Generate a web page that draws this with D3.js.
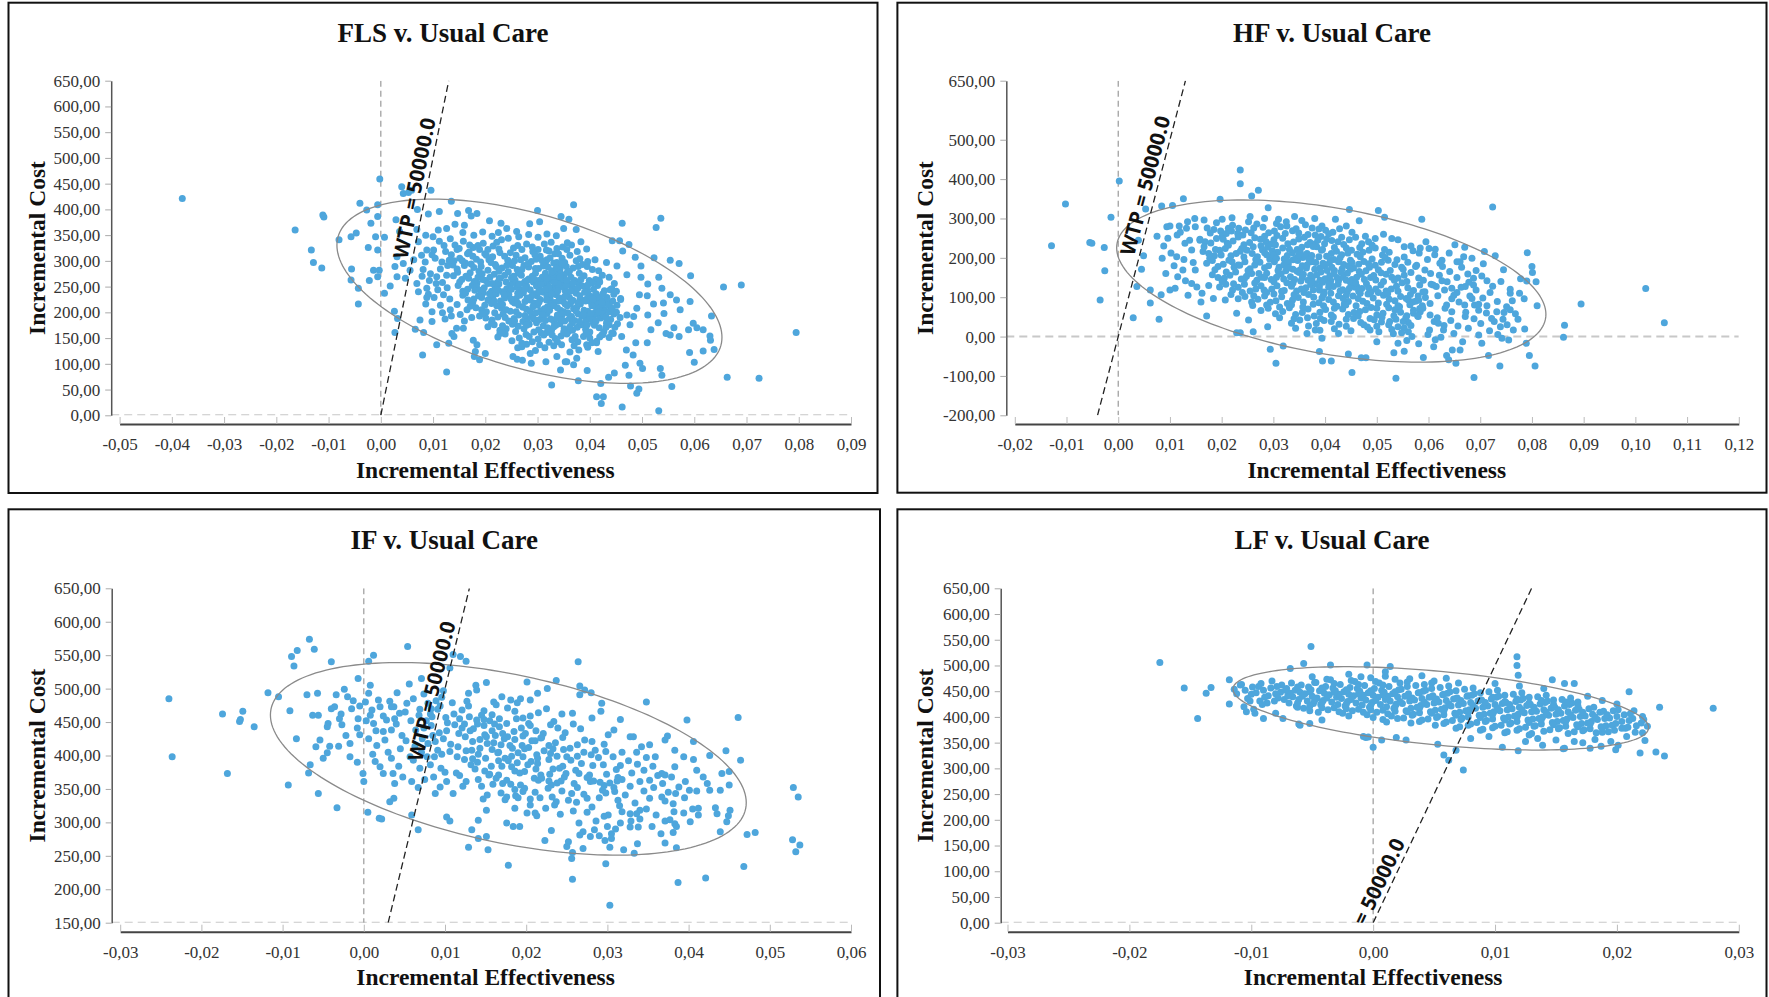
<!DOCTYPE html>
<html>
<head>
<meta charset="utf-8">
<script src="https://cdn.jsdelivr.net/npm/d3@7"></script>
<style>
  body { margin: 0; background: #fff; }
  svg { display: block; }
</style>
</head>
<body>
<svg id="chart" width="1769" height="997"></svg>
<script>
// ---------- data: [incremental effectiveness, incremental cost] ----------
const flsPoints = [
[-.0380,421],[-.0164,360],[-.0111,389],[-.0109,385],[-.0133,321],[-.0129,297],[-.0113,286],[-.0080,341],[-.0057,347],[-.0047,354],[-.0040,412],[-.0027,399],[-.0006,409],[-.0002,459],[-.0019,373],[-.0006,386],[-.0010,347],[.0007,346],[-.0024,326],[-.0006,321],[-.0056,284],[-.0057,263],[-.0043,247],[-.0043,216],[-.0022,262],[-.0014,282],[-.0006,269],[-.0003,282],[.0007,237],[.0018,251],[.0026,202],[.0032,188],[.0027,161],[.0040,444],[.0043,431],[.0053,433],[.0059,437],[.0096,437],[.0070,400],[.0029,380],[.0036,357],[.0069,361],[.0135,416],[.0091,391],[.0112,396],[.0147,392],[.0168,398],[.0184,392],[.0173,387],[.0142,371],[.0160,369],[.0208,378],[.0230,373],[.0285,372],[.0304,376],[.0300,398],[.0345,386],[.0350,363],[.0260,357],[.0241,363],[.0110,360],[.0126,363],[.0086,350],[.0100,347],[.0133,343],[.0088,321],[.0101,321],[.0072,337],[.0078,311],[.0063,302],[.0043,295],[.0031,308],[.0027,289],[.0031,269],[.0047,266],[.0056,282],[.0069,256],[.0072,240],[.0088,247],[.0107,269],[.0120,234],[.0086,216],[.0098,201],[.0098,182],[.0123,187],[.0135,193],[.0145,169],[.0140,153],[.0082,161],[.0066,167],[.0075,185],[.0107,137],[.0130,140],[.0080,117],[.0126,84],[.0136,159],[.0158,169],[.0177,146],[.0184,137],[.0181,124],[.0189,108],[.0200,120],[.0179,114],[.0228,159],[.0253,114],[.0261,109],[.0271,107],[.0288,101],[.0316,104],[.0327,59],[.0344,88],[.0337,114],[.0353,104],[.0286,120],[.0270,133],
[.0369,409],[.0360,381],[.0374,361],[.0462,373],[.0536,383],[.0527,365],[.0443,339],[.0457,339],[.0475,332],[.0463,319],[.0383,337],[.0394,323],[.0487,307],[.0523,306],[.0554,301],[.0571,295],[.0593,271],[.0656,249],[.0690,253],[.0498,290],[.0498,268],[.0511,255],[.0532,268],[.0538,247],[.0554,234],[.0566,224],[.0592,221],[.0495,234],[.0510,232],[.0522,216],[.0541,218],[.0542,198],[.0511,195],[.0531,180],[.0517,166],[.0490,208],[.0471,195],[.0477,176],[.0459,227],[.0471,273],[.0452,290],[.0432,297],[.0410,302],[.0418,263],[.0439,244],[.0554,156],[.0571,153],[.0561,170],[.0589,166],[.0605,170],[.0617,166],[.0630,154],[.0633,193],[.0631,146],[.0638,128],[.0617,125],[.0591,122],[.0600,103],[.0795,161],[.0663,74],[.0724,72],[.0557,56],[.0532,9],[.0462,16],[.0422,23],[.0413,36],[.0426,36],[.0494,51],[.0490,43],[.0478,57],[.0421,62],[.0436,74],[.0447,82],[.0475,78],[.0378,67],[.0395,87],[.0496,101],[.0501,91],[.0535,91],[.0538,78],[.0468,97],[.0483,117],[.0470,127],[.0510,141],[.0488,141],[.0416,124],[.0413,141],[.0394,137],[.0375,111],[.0369,98],[.0356,104],[.0423,156],[.0445,159],[.0461,153],[.0407,179],[.0432,179],[.0391,192],[.0435,218],[.0413,227],[.0381,224],[.0484,192],[.0573,205],[.0598,179],[.0546,159],
[.0142,331],[.0158,338],[.0177,326],[.0196,334],[.0215,329],[.0231,341],[.0254,325],[.0279,333],[.0301,322],[.0326,336],[.0348,327],[.0365,331],[.0189,322],[.0244,344],
[.0135,312],[.0151,305],[.0169,317],[.0183,303],[.0199,314],[.0214,308],[.0228,316],[.0243,301],[.0259,311],[.0276,306],[.0291,318],[.0305,309],[.0318,302],[.0333,314],[.0347,305],[.0362,311],[.0381,304],[.0322,319],
[.0128,291],[.0146,284],[.0162,296],[.0178,287],[.0191,298],[.0205,282],[.0219,293],[.0232,286],[.0246,297],[.0261,283],[.0274,291],[.0288,299],[.0302,285],[.0315,294],[.0327,281],[.0339,290],[.0352,297],[.0368,286],[.0386,293],[.0405,283],[.0331,296],[.0343,284],
[.0139,271],[.0155,264],[.0171,277],[.0186,268],[.0201,262],[.0217,274],[.0229,266],[.0244,279],[.0257,263],[.0269,272],[.0283,265],[.0296,276],[.0309,268],[.0321,261],[.0334,273],[.0345,266],[.0357,278],[.0371,262],[.0389,271],[.0411,264],[.0437,268],[.0326,270],[.0339,262],[.0351,272],
[.0148,252],[.0166,245],[.0184,257],[.0198,248],[.0212,241],[.0226,255],[.0241,246],[.0253,258],[.0267,243],[.0279,251],[.0292,259],[.0304,244],[.0316,253],[.0329,247],[.0341,256],[.0353,242],[.0366,250],[.0379,258],[.0394,245],[.0415,252],[.0442,246],[.0335,251],[.0347,259],[.0322,241],
[.0157,233],[.0178,226],[.0196,238],[.0214,229],[.0229,222],[.0245,235],[.0259,227],[.0273,238],[.0286,224],[.0299,232],[.0311,239],[.0324,226],[.0336,234],[.0349,221],[.0361,229],[.0374,237],[.0388,223],[.0403,231],[.0421,226],[.0446,235],[.0408,221],[.0396,238],
[.0171,212],[.0193,205],[.0212,217],[.0231,208],[.0248,202],[.0264,214],[.0279,206],[.0293,218],[.0306,203],[.0319,211],[.0332,219],[.0344,204],[.0357,213],[.0369,207],[.0382,216],[.0396,202],[.0411,211],[.0428,205],[.0452,214],[.0418,218],[.0437,201],[.0403,219],
[.0189,193],[.0213,185],[.0234,197],[.0255,188],[.0272,182],[.0289,194],[.0304,186],[.0318,198],[.0331,183],[.0345,191],[.0358,199],[.0371,184],[.0385,193],[.0399,187],[.0414,196],[.0433,182],[.0458,190],[.0421,189],[.0446,197],[.0408,181],
[.0205,172],[.0228,165],[.0252,177],[.0274,168],[.0293,162],[.0311,174],[.0327,166],[.0343,178],[.0359,163],[.0376,171],[.0392,167],[.0409,175],[.0427,163],[.0448,171],[.0366,179],[.0318,161],
[.0224,152],[.0251,145],[.0278,157],[.0301,148],[.0322,142],[.0345,154],[.0366,147],[.0388,153],[.0413,144],[.0437,151],
[.0262,131],[.0296,126],[.0331,135],[.0362,123],[.0396,132],
[.0150,324],[.0170,331],[.0205,322],[.0222,336],[.0262,330],[.0290,327],[.0313,333],[.0337,324],[.0357,335],
[.0140,300],[.0160,291],[.0176,309],[.0192,289],[.0207,302],[.0221,289],[.0237,309],[.0252,291],[.0268,302],[.0283,288],[.0297,303],[.0311,290],[.0324,306],[.0337,297],[.0355,289],[.0374,300],[.0395,289],
[.0147,278],[.0163,270],[.0179,260],[.0194,275],[.0209,268],[.0223,258],[.0237,272],[.0250,267],[.0263,276],[.0276,260],[.0290,270],[.0302,262],[.0315,276],[.0328,266],[.0340,277],[.0351,259],[.0364,268],[.0380,276],[.0399,262],[.0424,272],
[.0157,241],[.0175,252],[.0191,243],[.0205,256],[.0219,249],[.0233,240],[.0247,253],[.0260,249],[.0273,256],[.0286,244],[.0298,251],[.0310,257],[.0322,249],[.0334,243],[.0346,250],[.0359,256],[.0372,244],[.0386,251],[.0404,257],[.0428,242],
[.0167,224],[.0187,232],[.0205,224],[.0221,236],[.0237,228],[.0252,221],[.0266,233],[.0280,228],[.0293,236],[.0305,225],[.0318,231],[.0330,238],[.0342,228],[.0355,235],[.0368,223],[.0381,232],[.0395,227],[.0412,236],[.0433,229],
[.0182,209],[.0202,201],[.0222,213],[.0240,205],[.0256,218],[.0272,210],[.0286,202],[.0300,214],[.0313,207],[.0325,216],[.0338,209],[.0350,201],[.0363,217],[.0375,210],[.0389,204],[.0404,213],[.0419,206],[.0440,210],
[.0201,189],[.0224,191],[.0245,183],[.0264,195],[.0281,187],[.0297,199],[.0311,191],[.0325,187],[.0338,195],[.0352,183],[.0365,192],[.0378,197],[.0392,182],[.0406,191],[.0426,194],[.0440,186],
[.0217,176],[.0240,168],[.0263,173],[.0284,177],[.0302,166],[.0319,170],[.0335,175],[.0351,168],[.0367,165],[.0384,176],[.0400,162],[.0418,170],[.0437,176],
[.0238,158],[.0265,150],[.0290,143],[.0312,156],[.0334,149],[.0356,158],[.0377,143],[.0400,150],[.0425,157],
[.0279,138],[.0314,131],[.0346,137],[.0379,127],
[.0328,279],[.0336,286],[.0344,276],[.0331,262],[.0339,255],[.0349,265],[.0355,252],[.0418,208],[.0425,215],[.0431,222],[.0416,230],[.0436,214],[.0443,207],[.0410,199],[.0424,198],
[.0146,322],[.0166,314],[.0186,330],[.0202,311],[.0226,323],[.0248,316],[.0270,322],[.0295,312],[.0317,321],[.0340,314],[.0356,322],[.0376,318],
[.0138,292],[.0156,300],[.0173,294],[.0188,280],[.0211,297],[.0226,280],[.0241,291],[.0256,300],[.0270,283],[.0282,295],[.0296,285],[.0309,300],[.0320,288],[.0347,294],[.0361,280],[.0378,289],[.0396,299],[.0417,281],
[.0151,259],[.0168,266],[.0183,250],[.0195,264],[.0213,256],[.0227,266],[.0240,259],[.0254,270],[.0265,255],[.0280,262],[.0293,265],[.0306,254],[.0318,266],[.0332,258],[.0343,269],[.0356,262],[.0368,257],[.0383,264],[.0396,253],[.0419,259],[.0447,256],
[.0162,237],[.0180,243],[.0193,229],[.0208,236],[.0224,244],[.0236,234],[.0250,245],[.0262,237],[.0276,246],[.0289,232],[.0302,240],[.0315,245],[.0327,235],[.0339,242],[.0352,231],[.0363,241],[.0377,247],[.0390,239],[.0407,245],[.0425,236],[.0451,241],
[.0176,219],[.0199,214],[.0217,222],[.0233,215],[.0249,226],[.0262,218],[.0276,221],[.0291,211],[.0303,220],[.0317,224],[.0329,213],[.0340,222],[.0353,216],[.0365,224],[.0378,218],[.0392,222],[.0406,226],[.0423,220],[.0444,222],[.0459,225],
[.0195,198],[.0218,199],[.0238,190],[.0259,201],[.0276,194],[.0293,187],[.0309,196],[.0323,204],[.0336,188],[.0348,197],[.0361,188],[.0374,202],[.0388,196],[.0402,198],[.0417,201],[.0431,191],[.0451,200],
[.0212,180],[.0233,174],[.0256,183],[.0279,175],[.0298,180],[.0315,184],[.0331,172],[.0347,185],[.0362,172],[.0380,182],[.0395,176],[.0412,183],[.0431,171],[.0453,178],
[.0232,161],[.0258,163],[.0284,153],[.0307,160],[.0328,156],[.0350,162],[.0372,153],[.0393,160],[.0419,152],[.0442,160],
[.0270,140],[.0304,137],[.0338,143],[.0370,135],[.0404,141],
[.0085,298],[.0095,275],[.0104,305],[.0114,284],[.0118,258],[.0124,318],[.0093,262],[.0109,244],[.0117,298],[.0126,272],[.0102,229],[.0114,214],[.0127,248],[.0081,283],[.0091,235],[.0106,256],[.0121,330],[.0131,301],[.0112,338],[.0098,312],[.0079,270],[.0088,229],[.0132,226],[.0118,199],[.0133,205],[.0146,215],[.0152,196],[.0160,183],[.0165,205],[.0174,190],[.0157,355],[.0178,350],[.0195,356],[.0213,348],[.0225,355],[.0264,347],[.0283,351],[.0301,346],[.0318,352],[.0336,349]
];

const hfPoints = [
[-.0129,231],[-.0102,337],
[.0236,423],[.0236,388],[.0271,372],[.0258,357],[.0197,349],[.0126,350],[.0105,333],[.0084,332],[.0053,324],[.0002,395],[-.0014,303],[-.0051,237],[-.0055,239],[-.0027,226],[-.0026,167],[-.0035,93],[.0029,48],[.0079,44],[.0062,85],[.0036,127],[.0045,171],[.0049,205],[.0039,245],[.0062,118],[.0083,106],[.0100,118],[.0110,123],[.0085,199],[.0096,250],[.0100,281],[.0118,281],[.0134,292],[.0113,203],[.0125,169],[.0129,237],[.0290,327],[.0341,305],[.0394,281],[.0325,292],[.0447,323],[.0466,294],[.0171,52],[.0229,10],[.0236,10],[.0294,-32],[.0305,-68],[.0319,-24],[.0389,-38],[.0395,-62],[.0412,-62],[.0445,-44],[.0452,-91],[.0470,-54],[.0479,-54],[.0394,-4],[.0426,8],[.0261,12],[.0289,25],[.0343,21],[.0365,8],[.0381,17],[.0487,17],[.0504,12],[.0184,97],[.0207,93],[.0229,59],[.0252,42],[.0142,135],[.0162,110],[.0149,169],[.0094,279],[.0132,275],[.0149,279],[.0190,289],[.0252,292],[.0213,275],[.0158,245],[.0142,220],
[.0503,320],[.0515,303],[.0587,298],[.0724,329],[.0513,260],[.0529,249],[.0541,246],[.0595,241],[.0553,228],[.0570,218],[.0601,224],[.0613,222],[.0651,233],[.0670,227],[.0708,216],[.0729,205],[.0791,213],[.0800,178],[.0801,163],[.0808,139],[.0790,141],[.0778,147],[.0745,170],[.0758,120],[.0758,110],[.0776,110],[.0810,78],[.0895,83],[.1020,122],[.1056,35],[.0863,29],[.0861,-2],[.0773,44],[.0786,19],[.0789,-17],[.0795,-48],[.0806,-75],[.0738,-75],[.0688,-104],[.0537,-106],[.0716,-48],[.0653,-68],[.0639,-59],[.0635,-48],[.0646,-34],[.0661,-34],[.0666,-13],[.0703,-17],[.0755,-9],[.0742,-4],[.0764,17],[.0739,25],[.0722,46],[.0732,63],[.0746,61],[.0713,78],[.0697,67],[.0677,21],[.0697,4],[.0649,8],[.0629,17],[.0610,-26],[.0590,-53],[.0553,-37],[.0533,-41],[.0541,-17],[.0558,-10],[.0500,-13],[.0532,7],[.0561,12],[.0602,17],[.0671,51],[.0689,80],[.0684,97],[.0670,80],[.0645,63],[.0632,72],[.0611,38],[.0619,34],[.0580,51],[.0584,63],[.0571,59],[.0671,127],[.0687,131],[.0655,112],[.0676,159],[.0687,148],[.0703,154],[.0713,142],[.0668,203],[.0684,199],[.0661,190],[.0645,123],[.0626,142],[.0615,127],[.0593,114],[.0603,84],[.0635,80],[.0626,194],[.0622,186],[.0593,169],[.0609,131],[.0580,103],[.0561,93],[.0544,76],[.0561,36],[.0541,25],[.0525,38],
[.0172,276],[.0198,268],[.0221,283],[.0246,271],[.0268,286],[.0291,264],[.0314,279],[.0337,269],[.0362,284],[.0388,273],[.0415,265],[.0441,281],[.0231,262],[.0306,287],
[.0158,247],[.0179,238],[.0201,255],[.0222,243],[.0243,233],[.0264,251],[.0286,241],[.0307,257],[.0328,236],[.0349,248],[.0371,239],[.0392,254],[.0413,244],[.0436,234],[.0459,252],[.0484,241],[.0276,231],[.0381,258],
[.0164,216],[.0186,205],[.0207,224],[.0228,211],[.0249,219],[.0269,203],[.0289,227],[.0308,214],[.0327,206],[.0346,221],[.0365,211],[.0384,228],[.0403,204],[.0422,217],[.0441,225],[.0462,209],[.0485,219],[.0511,207],[.0357,201],[.0298,218],
[.0171,186],[.0193,178],[.0214,194],[.0235,181],[.0255,172],[.0274,189],[.0293,197],[.0311,176],[.0329,185],[.0347,193],[.0364,174],[.0382,188],[.0399,179],[.0417,196],[.0436,183],[.0455,174],[.0475,191],[.0497,181],[.0522,194],[.0548,176],[.0338,171],[.0373,198],
[.0182,157],[.0205,148],[.0227,164],[.0248,153],[.0268,143],[.0287,161],[.0306,151],[.0324,167],[.0341,145],[.0358,158],[.0375,149],[.0392,164],[.0409,154],[.0426,142],[.0443,161],[.0461,151],[.0479,167],[.0498,144],[.0518,158],[.0541,149],[.0566,163],[.0418,168],[.0353,141],
[.0196,126],[.0221,118],[.0244,133],[.0266,121],[.0287,112],[.0307,129],[.0326,137],[.0345,116],[.0363,124],[.0381,134],[.0398,113],[.0416,127],[.0434,119],[.0452,136],[.0471,122],[.0489,114],[.0508,131],[.0528,121],[.0549,137],[.0571,117],[.0395,138],
[.0232,96],[.0258,88],[.0283,103],[.0305,91],[.0327,84],[.0348,99],[.0368,107],[.0388,86],[.0407,94],[.0426,104],[.0445,89],[.0464,97],[.0483,108],[.0503,85],[.0524,95],[.0546,102],[.0569,88],[.0594,99],[.0437,83],
[.0276,66],[.0304,58],[.0331,73],[.0356,61],[.0379,52],[.0401,69],[.0423,77],[.0445,56],[.0467,64],[.0489,74],[.0512,59],[.0535,68],[.0558,53],[.0583,71],
[.0335,34],[.0368,27],[.0398,41],[.0427,31],[.0455,46],[.0482,24],[.0509,37],[.0537,44],[.0566,28],
[.0185,272],[.0209,262],[.0233,275],[.0257,264],[.0280,278],[.0302,268],[.0326,281],[.0349,263],[.0375,276],[.0401,270],[.0428,274],
[.0168,241],[.0190,249],[.0211,237],[.0232,253],[.0254,239],[.0275,247],[.0296,235],[.0318,250],[.0339,240],[.0360,252],[.0381,236],[.0403,248],[.0425,241],[.0447,246],[.0471,236],[.0497,249],
[.0175,211],[.0196,219],[.0218,205],[.0239,224],[.0259,211],[.0279,220],[.0299,207],[.0318,225],[.0337,213],[.0355,227],[.0374,206],[.0393,219],[.0412,211],[.0432,208],[.0451,219],[.0473,214],[.0497,225],[.0524,214],
[.0182,193],[.0203,184],[.0224,176],[.0245,190],[.0264,182],[.0283,175],[.0302,190],[.0320,182],[.0338,195],[.0356,180],[.0373,190],[.0390,174],[.0408,186],[.0426,190],[.0445,179],[.0465,184],[.0486,176],[.0509,189],[.0535,183],[.0560,189],
[.0193,150],[.0216,156],[.0238,146],[.0258,160],[.0277,151],[.0296,145],[.0315,159],[.0333,152],[.0350,163],[.0367,143],[.0384,157],[.0400,147],[.0417,160],[.0435,151],[.0452,145],[.0470,158],[.0488,150],[.0508,162],[.0529,151],[.0553,156],
[.0208,133],[.0232,125],[.0255,116],[.0276,129],[.0297,121],[.0316,115],[.0335,128],[.0354,121],[.0372,132],[.0389,118],[.0407,125],[.0425,133],[.0443,114],[.0461,128],[.0480,134],[.0498,121],[.0518,116],[.0538,128],[.0560,124],[.0583,131],
[.0245,102],[.0270,95],[.0294,87],[.0316,101],[.0337,93],[.0358,88],[.0378,100],[.0397,106],[.0416,88],[.0435,97],[.0454,103],[.0473,90],[.0493,98],[.0513,105],[.0535,91],[.0557,97],[.0581,92],
[.0290,72],[.0318,64],[.0343,56],[.0367,70],[.0390,62],[.0412,55],[.0434,70],[.0456,61],[.0478,68],[.0500,55],[.0523,73],[.0546,62],[.0571,67],
[.0351,42],[.0383,33],[.0412,38],[.0441,26],[.0469,36],[.0495,43],[.0523,30],[.0551,38],
[.0352,170],[.0361,205],[.0372,156],[.0404,168],[.0411,142],[.0389,127],[.0441,105],[.0449,138],[.0458,125],[.0395,221],[.0366,233],[.0344,199],[.0321,197],[.0311,160],[.0452,188],[.0433,172],[.0468,110],
[.0178,263],[.0203,247],[.0219,268],[.0241,258],[.0262,276],[.0283,255],[.0301,246],[.0323,262],[.0344,274],[.0367,259],[.0386,245],[.0407,261],[.0432,252],[.0452,265],[.0478,255],
[.0166,228],[.0188,221],[.0213,232],[.0236,217],[.0261,228],[.0283,213],[.0304,233],[.0331,222],[.0352,214],[.0377,229],[.0399,236],[.0418,226],[.0444,212],[.0467,226],[.0491,232],[.0515,221],
[.0177,199],[.0199,207],[.0220,190],[.0243,202],[.0266,196],[.0287,208],[.0306,199],[.0327,192],[.0349,207],[.0369,196],[.0388,203],[.0410,195],[.0429,200],[.0449,194],[.0468,203],[.0491,197],[.0516,201],[.0539,195],
[.0187,170],[.0209,164],[.0232,182],[.0251,168],[.0272,160],[.0291,180],[.0309,168],[.0330,174],[.0346,166],[.0365,182],[.0380,171],[.0396,186],[.0413,176],[.0431,164],[.0449,171],[.0466,165],[.0484,185],[.0503,170],[.0526,168],[.0551,171],[.0575,178],
[.0201,140],[.0223,134],[.0244,147],[.0264,136],[.0283,150],[.0301,139],[.0320,146],[.0338,136],[.0356,150],[.0374,138],[.0390,143],[.0407,134],[.0423,150],[.0441,143],[.0459,137],[.0476,145],[.0494,155],[.0513,140],[.0534,143],[.0558,140],[.0581,149],
[.0218,107],[.0240,112],[.0262,104],[.0282,118],[.0301,108],[.0321,117],[.0340,106],[.0359,112],[.0377,118],[.0394,98],[.0411,110],[.0429,116],[.0447,123],[.0465,115],[.0484,124],[.0503,112],[.0521,109],[.0541,115],[.0565,107],[.0589,113],
[.0260,79],[.0287,80],[.0312,75],[.0335,81],[.0357,75],[.0377,82],[.0397,78],[.0418,72],[.0440,80],[.0460,78],[.0481,84],[.0500,72],[.0519,82],[.0541,78],[.0564,81],[.0588,78],
[.0312,48],[.0340,45],[.0366,48],[.0391,46],[.0416,50],[.0441,44],[.0464,52],[.0487,46],[.0510,49],[.0533,53],[.0556,47],[.0579,52],
[.0390,16],[.0418,20],[.0450,15],[.0475,30],[.0500,26],[.0529,18],[.0553,22],
[.0566,230],[.0582,212],[.0598,196],[.0612,208],[.0627,178],[.0641,165],[.0655,150],[.0664,176],[.0678,138],[.0692,118],[.0705,98],[.0719,112],[.0733,89],[.0751,76],[.0577,181],[.0590,143],[.0604,160],[.0618,104],[.0631,118],[.0645,96],[.0659,88],[.0672,62],[.0688,45],[.0701,33],[.0718,15],[.0734,5],[.0752,30],[.0768,58],[.0785,96],[.0575,90],[.0589,72],[.0603,55],[.0617,48],[.0630,28],[.0643,41],[.0657,27],[.0599,5],[.0613,-8],[.0624,-2],[.0568,0],[.0581,-18],[.0548,10],[.0605,133],[.0621,156],[.0636,139],[.0649,105],[.0663,125],[.0680,103],[.0697,82],[.0712,60],[.0727,38],[.0744,44],[.0758,68],[.0553,202],[.0584,225],[.0640,212],[.0655,190],[.0692,168],[.0706,185],[.0724,128],[.0740,140],[.0762,91],
[.0075,255],[.0088,230],[.0102,212],[.0114,258],[.0127,196],[.0138,245],[.0145,188],[.0115,152],[.0130,142],[.0152,126],[.0135,105],[.0160,88],[.0175,130],[.0092,160],[.0108,180],[.0120,265],[.0148,300],[.0166,296],[.0201,298],[.0220,302],[.0255,305],[.0283,300],[.0310,298],[.0355,295],[.0380,300],[.0420,298]
];

const ifPoints = [
[-.0240,485],[-.0236,398],[-.0168,373],[-.0174,462],[-.0153,451],
[-.0067,574],[-.0082,557],[-.0089,548],[-.0086,534],[-.0061,559],[-.0040,540],[.0006,541],[.0012,550],[.0054,563],[-.0007,515],[-.0118,494],[-.0105,488],[-.0149,466],[-.0152,454],[-.0135,443],[-.0091,467],[-.0070,491],[-.0057,493],[-.0063,460],[-.0056,460],[-.0083,425],[-.0059,413],[-.0044,448],[-.0045,443],[-.0027,446],[-.0034,491],[-.0024,499],[-.0036,473],[-.0054,423],[-.0042,414],[-.0031,414],[-.0045,404],[-.0050,396],[-.0066,386],[-.0068,374],[-.0093,356],[-.0056,343],[-.0033,322],[-.0017,418],[-.0017,398],[-.0013,482],[-.0020,488],[-.0005,474],[-.0007,455],[-.0005,431],[-.0001,373],[.0000,361],[.0005,315],[.0019,306],[.0022,305],[.0008,505],[.0006,493],[.0018,483],[.0020,473],[.0008,460],[.0012,448],[.0006,425],[.0016,415],[.0014,391],[.0020,383],[.0026,423],[.0024,436],[.0034,438],[.0037,473],[.0041,494],[.0044,463],[.0034,473],[.0028,453],[.0038,455],[.0051,465],[.0061,485],[.0056,507],[.0071,515],[.0110,551],[.0119,548],[.0126,541],[.0106,531],[.0098,497],[.0109,479],[.0094,474],[.0069,469],[.0084,458],[.0034,396],[.0024,373],[.0036,373],[.0048,368],[.0059,361],[.0038,358],[.0032,331],[.0037,336],[.0059,311],[.0067,289],[.0061,393],[.0069,381],[.0071,405],[.0086,368],[.0094,353],[.0102,361],[.0088,343],[.0110,343],[.0102,308],[.0106,302],[.0129,263],[.0141,276],[.0151,279],[.0153,259],[.0133,289],[.0141,303],[.0151,318],[.0178,236],[.0176,299],[.0184,294],[.0192,294],[.0201,510],[.0151,509],[.0138,505],[.0139,498],[.0129,493],[.0214,493],[.0160,480],[.0170,488],[.0181,483],[.0193,485],[.0205,483],[.0213,310],[.0201,314],[.0205,335],[.0176,338],[.0118,455],[.0148,454],
[.0264,540],[.0237,512],[.0266,504],[.0272,498],[.0280,494],[.0266,491],[.0226,500],[.0293,478],[.0348,480],[.0398,453],[.0461,457],[.0292,466],[.0281,456],[.0257,463],[.0316,454],[.0308,438],[.0301,431],[.0328,428],[.0332,428],[.0371,423],[.0374,429],[.0406,421],[.0383,408],[.0352,416],[.0342,413],[.0336,405],[.0348,397],[.0359,398],[.0394,398],[.0406,394],[.0426,400],[.0446,407],[.0464,393],[.0450,376],[.0441,373],[.0410,378],[.0383,383],[.0367,373],[.0371,371],[.0379,368],[.0396,361],[.0418,368],[.0423,358],[.0450,356],[.0439,348],[.0426,348],[.0401,348],[.0410,347],[.0384,343],[.0352,363],[.0340,361],[.0328,354],[.0318,364],[.0303,359],[.0352,336],[.0367,338],[.0371,332],[.0381,328],[.0382,316],[.0394,314],[.0405,320],[.0412,321],[.0412,311],[.0433,322],[.0435,313],[.0451,318],[.0449,310],[.0402,301],[.0371,302],[.0383,298],[.0385,294],[.0377,304],[.0381,285],[.0439,286],[.0472,282],[.0482,285],[.0385,262],[.0371,269],[.0337,268],[.0333,254],[.0320,259],[.0303,263],[.0305,276],[.0297,273],[.0305,283],[.0328,293],[.0338,293],[.0340,318],[.0336,313],[.0328,313],[.0318,316],[.0316,299],[.0301,311],[.0300,294],[.0284,289],[.0279,279],[.0270,286],[.0266,281],[.0270,261],[.0257,255],[.0252,271],[.0250,264],[.0256,246],[.0223,273],[.0231,288],[.0298,238],[.0257,215],[.0387,210],[.0421,217],[.0468,234],[.0528,274],[.0537,266],[.0532,256],[.0529,352],[.0535,338],[.0447,301],[.0303,176],
[.0082,462],[.0101,457],[.0121,468],[.0139,453],[.0158,461],[.0177,471],[.0196,456],[.0215,464],[.0234,451],[.0129,474],
[.0074,441],[.0093,434],[.0112,446],[.0131,437],[.0149,431],[.0167,443],[.0185,436],[.0203,448],[.0221,433],[.0239,441],[.0258,447],[.0103,449],
[.0079,418],[.0098,425],[.0116,413],[.0134,421],[.0151,428],[.0169,416],[.0186,424],[.0203,412],[.0219,427],[.0236,419],[.0254,411],[.0272,423],[.0143,411],[.0196,429],
[.0087,398],[.0106,406],[.0124,394],[.0141,402],[.0158,409],[.0174,396],[.0190,404],[.0206,391],[.0222,407],[.0238,399],[.0255,393],[.0271,405],[.0289,397],[.0166,392],[.0213,401],
[.0095,381],[.0114,374],[.0132,386],[.0149,377],[.0166,371],[.0182,383],[.0198,376],[.0214,388],[.0229,372],[.0245,384],[.0261,378],[.0278,371],[.0295,386],[.0311,379],[.0189,389],
[.0126,361],[.0145,354],[.0163,366],[.0181,357],[.0198,351],[.0215,363],[.0231,356],[.0247,368],[.0263,352],[.0279,361],[.0296,355],[.0313,367],[.0238,359],
[.0152,341],[.0174,334],[.0196,346],[.0217,337],[.0237,331],[.0256,343],[.0275,336],[.0294,348],[.0313,333],
[.0186,321],[.0211,314],[.0235,326],[.0258,317],[.0281,323],
[.0096,487],[.0127,481],[.0163,476],[.0189,479],
[.0091,469],[.0111,462],[.0130,458],[.0148,467],[.0167,455],[.0186,466],[.0205,459],[.0225,470],[.0244,462],
[.0083,445],[.0102,437],[.0121,441],[.0140,447],[.0158,437],[.0176,448],[.0194,441],[.0212,437],[.0230,446],[.0248,434],[.0267,440],
[.0088,421],[.0107,417],[.0125,428],[.0143,424],[.0160,419],[.0177,428],[.0195,415],[.0211,422],[.0228,415],[.0245,427],[.0263,416],[.0281,421],
[.0096,402],[.0115,398],[.0133,408],[.0150,396],[.0166,405],[.0182,399],[.0198,410],[.0214,396],[.0230,403],[.0246,409],[.0263,399],[.0280,401],[.0298,406],
[.0100,375],[.0118,370],[.0137,380],[.0154,371],[.0170,384],[.0186,377],[.0202,386],[.0218,371],[.0233,380],[.0249,373],[.0265,373],[.0282,385],[.0299,372],[.0316,385],
[.0122,354],[.0141,364],[.0159,357],[.0176,363],[.0193,356],[.0210,366],[.0227,351],[.0243,362],[.0259,358],[.0275,367],[.0291,360],[.0308,352],
[.0147,335],[.0169,344],[.0190,337],[.0211,345],[.0232,338],[.0252,333],[.0271,342],[.0290,337],[.0309,346],
[.0152,418],[.0171,433],[.0183,411],[.0161,447],[.0199,433],[.0207,422],[.0178,392],[.0192,374],[.0219,366],[.0228,394],[.0241,381],[.0157,384],[.0134,395],[.0124,447],[.0117,433],[.0145,460],[.0165,404],[.0186,349],
[-.0040,470],[-.0028,462],[-.0015,470],[-.0008,441],[.0003,452],[.0010,468],[.0015,437],[.0024,459],[.0032,481],[.0040,447],[.0047,430],[.0053,478],[.0058,452],[.0064,438],[.0068,460],[.0074,492],[.0079,478],[.0083,470],[.0045,410],[.0052,422],[.0057,398],[.0063,414],[.0072,425],[.0078,398],[.0082,386],[.0067,352],[.0075,364],[.0043,384],[.0030,405],[.0011,402],[-.0008,390],[-.0022,430],[-.0030,455],[.0002,480],[.0089,482],[.0077,452],[.0091,408],[.0085,430],
[.0285,408],[.0296,417],[.0307,398],[.0318,405],[.0326,392],[.0337,387],[.0345,378],[.0356,384],[.0362,370],[.0330,374],[.0312,362],[.0322,341],[.0334,329],[.0345,347],[.0357,352],[.0368,358],[.0375,345],[.0388,353],[.0395,337],[.0348,320],[.0360,311],[.0329,302],[.0340,305],[.0355,294],[.0366,283],[.0310,290],[.0296,309],[.0286,302],[.0275,315],[.0265,299],[.0290,280],
[.0135,440],[.0155,452],[.0173,425],[.0188,455],[.0205,445],[.0218,426],[.0233,410],[.0250,398],[.0268,388],[.0283,362],[.0298,344],[.0315,325],[.0262,330],[.0244,347],[.0228,362],[.0212,380],[.0196,398],[.0180,415],[.0162,430],[.0148,445],[.0126,407],[.0140,390],[.0155,372],[.0171,358],[.0187,340],[.0205,326],[.0224,321],[.0242,312]
];

const lfPoints = [
[-.0175,506],[-.0155,456],[-.0137,446],[-.0133,457],[-.0144,397],[-.0051,537],[-.0057,504],[-.0068,494],[-.0118,472],[-.0114,454],[-.0118,425],[-.0104,410],[-.0097,407],[-.0090,397],[-.0080,407],[-.0074,397],[-.0060,384],[-.0052,387],[-.0042,394],[-.0035,501],[-.0005,501],[.0000,341],[-.0006,360],[.0007,355],[.0058,326],[.0062,316],[.0074,297],[.0118,517],[.0118,500],[.0119,481],[.0147,472],[.0157,465],[.0165,465],[.0210,449],[.0214,412],[.0235,419],[.0279,417],[.0221,369],[.0223,354],[.0219,330],[.0232,332],[.0239,324],[.0199,336],[.0178,339],[.0119,334],[.0106,341],[.0139,345],[.0157,339],[.0014,498],
[.0156,338],[.0201,345],[.0068,335],[.0187,343],[.0172,350],[.0204,378],[-.0008,362],[-.0004,361],[.0019,360],[.0027,355],[.0053,347],[-.0061,386],
[-.0105,452],[-.0103,436],[-.0108,463],
[-.0096,447],[-.0093,431],[-.0094,459],
[-.0086,441],[-.0084,456],[-.0087,427],
[-.0076,448],[-.0073,434],[-.0075,462],
[-.0066,439],[-.0064,452],[-.0063,421],[-.0067,466],
[-.0056,445],[-.0054,431],[-.0053,458],[-.0057,417],
[-.0046,437],[-.0044,451],[-.0043,424],[-.0047,467],[-.0045,409],
[-.0036,443],[-.0034,429],[-.0033,456],[-.0037,414],[-.0035,472],
[-.0026,436],[-.0024,449],[-.0023,421],[-.0027,463],[-.0025,407],
[-.0016,441],[-.0014,427],[-.0013,455],[-.0017,412],[-.0015,469],
[-.0006,433],[-.0004,447],[-.0003,419],[-.0007,461],[-.0005,404],[-.0002,476],
[.0004,438],[.0006,424],[.0007,452],[.0003,409],[.0005,466],[.0008,395],
[.0014,431],[.0016,445],[.0017,417],[.0013,459],[.0015,402],[.0018,473],
[.0024,426],[.0026,440],[.0027,412],[.0023,454],[.0025,398],[.0028,468],
[.0034,433],[.0036,419],[.0037,447],[.0033,405],[.0035,461],[.0038,391],
[.0044,424],[.0046,438],[.0047,410],[.0043,452],[.0045,396],[.0048,466],
[.0054,429],[.0056,415],[.0057,443],[.0053,401],[.0055,457],[.0058,387],
[.0064,421],[.0066,435],[.0067,407],[.0063,449],[.0065,393],[.0068,378],
[.0074,426],[.0076,412],[.0077,440],[.0073,398],[.0075,454],[.0078,384],
[.0084,417],[.0086,431],[.0087,403],[.0083,445],[.0085,389],[.0088,374],
[.0094,421],[.0096,407],[.0097,435],[.0093,393],[.0095,449],[.0098,379],
[.0104,412],[.0106,426],[.0107,398],[.0103,440],[.0105,384],[.0108,369],
[.0114,416],[.0116,402],[.0117,430],[.0113,388],[.0115,444],[.0118,374],
[.0124,408],[.0126,422],[.0127,394],[.0123,436],[.0125,380],[.0128,365],
[.0134,411],[.0136,397],[.0137,425],[.0133,383],[.0135,439],
[.0144,403],[.0146,417],[.0147,389],[.0143,431],[.0145,375],
[.0154,407],[.0156,393],[.0157,421],[.0153,379],[.0155,434],
[.0164,399],[.0166,413],[.0167,385],[.0163,427],[.0165,371],
[.0174,402],[.0176,388],[.0177,416],[.0173,375],
[.0184,395],[.0186,409],[.0187,381],[.0183,369],
[.0194,398],[.0196,384],[.0197,412],[.0193,371],
[.0204,391],[.0206,404],[.0207,378],
[.0213,397],[.0216,383],
[-.0100,444],[-.0099,458],[-.0101,431],
[-.0090,452],[-.0089,438],[-.0091,424],
[-.0080,445],[-.0081,431],[-.0079,459],
[-.0070,441],[-.0071,455],[-.0069,427],
[-.0060,448],[-.0061,434],[-.0059,462],[-.0062,419],
[-.0050,440],[-.0051,453],[-.0049,426],[-.0048,467],[-.0052,412],
[-.0040,446],[-.0041,432],[-.0039,459],[-.0042,418],[-.0038,473],
[-.0030,438],[-.0031,451],[-.0029,424],[-.0032,465],[-.0028,410],
[-.0020,444],[-.0021,430],[-.0019,457],[-.0022,416],[-.0018,471],[-.0020,402],
[-.0010,437],[-.0011,450],[-.0009,423],[-.0012,463],[-.0008,409],[-.0010,478],
[.0000,442],[-.0001,428],[.0001,455],[-.0002,414],[.0002,469],[.0000,399],
[.0010,434],[.0009,448],[.0011,420],[.0008,462],[.0012,406],[.0010,479],[.0011,390],
[.0020,439],[.0019,425],[.0021,453],[.0018,411],[.0022,466],[.0020,397],
[.0030,431],[.0029,445],[.0031,417],[.0028,459],[.0032,403],[.0030,474],[.0031,388],
[.0040,436],[.0039,422],[.0041,450],[.0038,408],[.0042,463],[.0040,394],
[.0050,427],[.0049,441],[.0051,413],[.0048,455],[.0052,399],[.0050,470],[.0051,384],
[.0060,432],[.0059,418],[.0061,446],[.0058,404],[.0062,460],[.0060,390],
[.0070,423],[.0069,437],[.0071,409],[.0068,451],[.0072,395],[.0070,466],[.0071,381],
[.0080,428],[.0079,414],[.0081,442],[.0078,400],[.0082,456],[.0080,386],
[.0090,419],[.0089,433],[.0091,405],[.0088,447],[.0092,391],[.0090,376],
[.0100,424],[.0099,410],[.0101,438],[.0098,396],[.0102,452],[.0100,382],
[.0110,414],[.0109,428],[.0111,400],[.0108,442],[.0112,386],[.0110,371],
[.0120,419],[.0119,405],[.0121,433],[.0118,391],[.0122,447],[.0120,377],
[.0130,410],[.0129,424],[.0131,396],[.0128,438],[.0132,382],[.0130,368],
[.0140,414],[.0139,400],[.0141,428],[.0138,386],[.0142,442],[.0140,372],
[.0150,405],[.0149,419],[.0151,391],[.0148,433],[.0152,377],
[.0160,410],[.0159,396],[.0161,424],[.0158,382],[.0162,437],[.0160,368],
[.0170,401],[.0169,415],[.0171,387],[.0168,429],[.0172,373],
[.0180,405],[.0179,391],[.0181,419],[.0178,377],
[.0190,397],[.0189,411],[.0191,383],[.0188,370],
[.0200,401],[.0199,387],[.0201,414],[.0198,374],
[.0210,393],[.0209,380],[.0211,406],
[.0220,388],[.0221,401],
[-.0078,437],[-.0068,446],[-.0058,440],[-.0048,432],[-.0038,437],[-.0028,444],[-.0018,434],[-.0008,442],[.0002,432],[.0012,440],[.0022,430],[.0032,437],[.0042,429],[.0052,435],[.0062,425],[.0072,432],[.0082,422],[.0092,428],[.0102,418],[.0112,424],[.0122,414],[.0132,419],[.0142,409],[.0152,414],[.0162,404],[.0172,409],[.0182,400],[.0192,404],
[-.0072,452],[-.0062,458],[-.0052,449],[-.0042,456],[-.0032,448],[-.0022,453],[-.0012,445],[-.0002,451],[.0008,443],[.0018,449],[.0028,441],[.0038,447],[.0048,439],[.0058,444],[.0068,436],[.0078,441],[.0088,433],[.0098,438],[.0108,430],[.0118,435],[.0128,427],[.0138,432],[.0148,424],[.0158,429],[.0168,421],
[-.0062,427],[-.0052,421],[-.0042,428],[-.0032,418],[-.0022,425],[-.0012,415],[-.0002,422],[.0008,413],[.0018,420],[.0028,410],[.0038,417],[.0048,407],[.0058,412],[.0068,403],[.0078,409],[.0088,399],[.0098,405],[.0108,394],[.0118,400],[.0128,389],[.0138,395],[.0148,385],[.0158,391],[.0168,381],[.0178,386],[.0188,378],
[-.0112,445],[-.0109,462],[-.0106,420],[-.0098,415],[-.0092,465],[-.0083,470],[.0150,355],[.0165,352],[.0182,356],[.0195,352],[.0208,362],[.0125,352],[.0135,358],[.0095,362],[.0080,358],[.0215,370],[.0225,382],[.0222,395],[.0200,425],[.0188,432],[.0176,440],[.0140,455],[.0120,460],[.0100,465],[.0060,475],[.0040,480],[.0010,488],[-.0020,483],[-.0050,478]
];

// axis ticks
const flsXTicks = [-0.05,-0.04,-0.03,-0.02,-0.01,0,0.01,0.02,0.03,0.04,0.05,0.06,0.07,0.08,0.09];
const flsYTicks = [0,50,100,150,200,250,300,350,400,450,500,550,600,650];
const hfXTicks = [-0.02,-0.01,0,0.01,0.02,0.03,0.04,0.05,0.06,0.07,0.08,0.09,0.10,0.11,0.12];
const hfYTicks = [-200,-100,0,100,200,300,400,500,650];
const ifXTicks = [-0.03,-0.02,-0.01,0,0.01,0.02,0.03,0.04,0.05,0.06];
const ifYTicks = [150,200,250,300,350,400,450,500,550,600,650];
const lfXTicks = [-0.03,-0.02,-0.01,0,0.01,0.02,0.03];
const lfYTicks = [0,50,100,150,200,250,300,350,400,450,500,550,600,650];

// confidence ellipses: [mean effect, mean cost, effect half-width, cost half-height, correlation]
const flsEllipse = [0.02845, 241, 0.03685, 179, -0.50];
const hfEllipse  = [0.0412, 141, 0.0415, 206, -0.41];
const ifEllipse  = [0.0178, 395, 0.0293, 144, -0.455];
const lfEllipse  = [0.00555, 416.6, 0.01705, 81, -0.46];

// willingness-to-pay threshold and where its label sits (cost value along the line)
const wtp = 50000;
const labelCosts = [300, 200, 388, -100];
const refCosts = [0, 0, 150, 0];

const panels = [
  { title: "FLS v. Usual Care", points: flsPoints, xTicks: flsXTicks, yTicks: flsYTicks, ellipse: flsEllipse,
    layout: { frame: [8.5, 2.7, 869, 490.3], xRange: [119.6, 851], yRange: [415.3, 80.7], yAxisX: 111.2, xAxisY: 424, titleY: 42, xTitleY: 478, yTitleX: 45 } },
  { title: "HF v. Usual Care", points: hfPoints, xTicks: hfXTicks, yTicks: hfYTicks, ellipse: hfEllipse,
    layout: { frame: [897.4, 2.7, 869.1, 490], xRange: [1014.8, 1738.8], yRange: [415.3, 80.7], yAxisX: 1006.3, xAxisY: 424, titleY: 42, xTitleY: 478, yTitleX: 933 } },
  { title: "IF v. Usual Care", points: ifPoints, xTicks: ifXTicks, yTicks: ifYTicks, ellipse: ifEllipse,
    layout: { frame: [8.5, 509.3, 871.5, 500], xRange: [120.2, 851], yRange: [922.7, 588.3], yAxisX: 111.7, xAxisY: 931.7, titleY: 549, xTitleY: 985, yTitleX: 45 } },
  { title: "LF v. Usual Care", points: lfPoints, xTicks: lfXTicks, yTicks: lfYTicks, ellipse: lfEllipse,
    layout: { frame: [897.4, 509.3, 869.1, 500], xRange: [1007.5, 1738.8], yRange: [922.7, 588.3], yAxisX: 1000.7, xAxisY: 931.7, titleY: 549, xTitleY: 985, yTitleX: 933 } }
];

// ---------- drawing ----------
const svg = d3.select("#chart");
const locale = d3.formatLocale({ decimal: ",", thousands: ".", grouping: [3], currency: ["", ""], minus: "-" });
const fmt = locale.format(".2f");
const serif = "'Liberation Serif', 'Times New Roman', serif";
const dotColor = "#4ea6dc";

panels.forEach((p, i) => {
  const L = p.layout;
  const g = svg.append("g");

  g.append("rect")
    .attr("x", L.frame[0]).attr("y", L.frame[1])
    .attr("width", L.frame[2]).attr("height", L.frame[3])
    .attr("fill", "none").attr("stroke", "#111").attr("stroke-width", 2);

  const x = d3.scaleLinear().domain([p.xTicks[0], p.xTicks[p.xTicks.length - 1]]).range(L.xRange);
  const y = d3.scaleLinear().domain([p.yTicks[0], p.yTicks[p.yTicks.length - 1]]).range(L.yRange);
  const c0 = p.yTicks[0], c1 = p.yTicks[p.yTicks.length - 1];

  // titles
  g.append("text")
    .attr("x", L.frame[0] + L.frame[2] / 2).attr("y", L.titleY)
    .attr("text-anchor", "middle")
    .attr("font-family", serif).attr("font-weight", "bold").attr("font-size", 27)
    .attr("fill", "#111").text(p.title);

  g.append("text")
    .attr("x", (L.xRange[0] + L.xRange[1]) / 2).attr("y", L.xTitleY)
    .attr("text-anchor", "middle")
    .attr("font-family", serif).attr("font-weight", "bold").attr("font-size", 23.5)
    .attr("fill", "#111").text("Incremental Effectiveness");

  g.append("text")
    .attr("transform", `translate(${L.yTitleX},${(L.yRange[0] + L.yRange[1]) / 2}) rotate(-90)`)
    .attr("text-anchor", "middle")
    .attr("font-family", serif).attr("font-weight", "bold").attr("font-size", 23.5)
    .attr("fill", "#111").text("Incremental Cost");

  // plot area clip
  const clipId = "plot-clip-" + i;
  svg.append("clipPath").attr("id", clipId)
    .append("rect")
    .attr("x", L.yAxisX).attr("y", L.yRange[1])
    .attr("width", L.xRange[1] - L.yAxisX).attr("height", L.yRange[0] - L.yRange[1]);
  const plot = g.append("g").attr("clip-path", `url(#${clipId})`);

  // reference lines
  plot.append("line")
    .attr("x1", L.yAxisX).attr("x2", L.xRange[1])
    .attr("y1", y(refCosts[i])).attr("y2", y(refCosts[i]))
    .attr("stroke", "#c8c8c8").attr("stroke-width", 2).attr("stroke-dasharray", "8,5");
  plot.append("line")
    .attr("x1", x(0)).attr("x2", x(0))
    .attr("y1", y(c1)).attr("y2", y(c0))
    .attr("stroke", "#9a9a9a").attr("stroke-width", 1.2).attr("stroke-dasharray", "6,4");

  // simulation points
  plot.append("g").selectAll("circle").data(p.points).join("circle")
    .attr("cx", d => x(d[0])).attr("cy", d => y(d[1]))
    .attr("r", 3.5).attr("fill", dotColor);

  // confidence ellipse
  const [mx, my, sx, sy, rho] = p.ellipse;
  const phi = Math.acos(rho);
  const angles = d3.range(0, 361, 2).map(a => a * Math.PI / 180);
  plot.append("path")
    .attr("d", d3.line()(angles.map(t => [x(mx + sx * Math.cos(t)), y(my + sy * Math.cos(t + phi))])))
    .attr("fill", "none").attr("stroke", "#8a8a8a").attr("stroke-width", 1.3);

  // WTP threshold line and label
  plot.append("line")
    .attr("x1", x(c0 / wtp)).attr("y1", y(c0))
    .attr("x2", x(c1 / wtp)).attr("y2", y(c1))
    .attr("stroke", "#222").attr("stroke-width", 1.3).attr("stroke-dasharray", "7,4");
  const ang = Math.atan2(y(c1) - y(c0), x(c1 / wtp) - x(c0 / wtp)) * 180 / Math.PI;
  const lc = labelCosts[i];
  plot.append("text")
    .attr("transform", `translate(${x(lc / wtp)},${y(lc)}) rotate(${ang})`)
    .attr("dy", -5)
    .attr("font-family", "'Open Sans', 'DejaVu Sans', sans-serif").attr("font-weight", "bold").attr("font-size", 20.5)
    .attr("fill", "#111").text("WTP = " + wtp.toFixed(1));

  // axes
  const yAxis = g.append("g").attr("transform", `translate(${L.yAxisX},0)`)
    .call(d3.axisLeft(y).tickValues(p.yTicks).tickFormat(fmt).tickSizeInner(6).tickSizeOuter(0).tickPadding(5));
  yAxis.select(".domain").attr("stroke", "#555").attr("stroke-width", 1.5);
  yAxis.selectAll(".tick line").attr("stroke", "#aaa");
  yAxis.selectAll(".tick text").attr("font-family", serif).attr("font-size", 17).attr("fill", "#333");

  const xAxis = g.append("g").attr("transform", `translate(0,${L.xAxisY})`)
    .call(d3.axisBottom(x).tickValues(p.xTicks).tickFormat(fmt).tickSizeInner(-7).tickSizeOuter(0).tickPadding(14));
  xAxis.select(".domain").attr("stroke", "#444").attr("stroke-width", 2);
  xAxis.selectAll(".tick line").attr("stroke", "#bbb");
  xAxis.selectAll(".tick text").attr("font-family", serif).attr("font-size", 17).attr("fill", "#333");
});
</script>
</body>
</html>
